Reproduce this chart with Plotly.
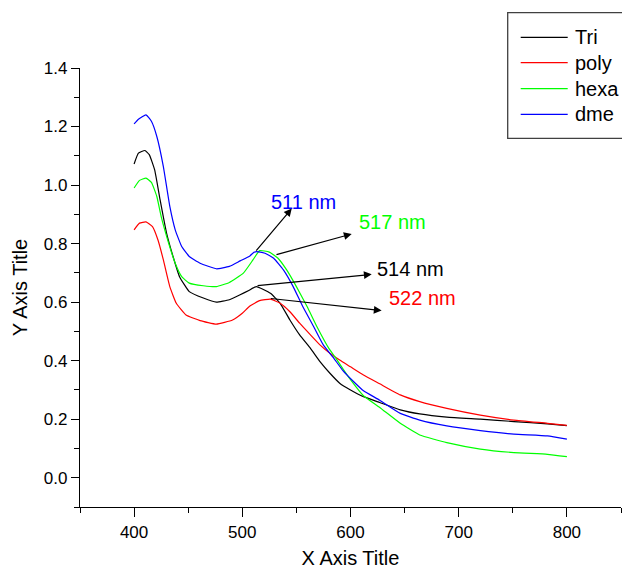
import plotly.graph_objects as go

# ---------------- data ----------------
series_names = ["Tri", "poly", "hexa", "dme"]
series_colors = ["#000000", "#FF0000", "#00FF00", "#0000FF"]

tri_x = [400, 404, 410, 414, 419, 424, 430, 436, 442, 451, 464, 476, 488, 498, 506, 513, 526, 535,
         544, 553, 563, 572, 581, 590, 600, 612, 627, 646, 664, 689, 720, 751, 782, 800]
tri_y = [1.072, 1.109, 1.118, 1.104, 1.052, 0.950, 0.836, 0.756, 0.687, 0.636, 0.614, 0.600, 0.608,
         0.625, 0.640, 0.653, 0.630, 0.596, 0.539, 0.488, 0.442, 0.396, 0.357, 0.323, 0.300, 0.277,
         0.257, 0.232, 0.218, 0.207, 0.200, 0.192, 0.184, 0.178]

poly_x = [400, 405, 411, 417, 422, 427, 433, 439, 448, 461, 476, 491, 500, 507, 516, 526, 535, 544,
          553, 563, 572, 581, 590, 600, 612, 627, 646, 664, 689, 720, 751, 782, 800]
poly_y = [0.847, 0.870, 0.874, 0.858, 0.813, 0.745, 0.653, 0.596, 0.556, 0.537, 0.525, 0.539, 0.562,
          0.587, 0.605, 0.610, 0.596, 0.567, 0.528, 0.488, 0.453, 0.425, 0.402, 0.379, 0.351, 0.321,
          0.283, 0.260, 0.237, 0.214, 0.197, 0.186, 0.179]

hexa_x = [400, 405, 411, 416, 421, 425, 431, 438, 444, 451, 464, 476, 488, 501, 510, 516, 525, 533,
          541, 550, 560, 569, 580, 586, 593, 600, 612, 627, 646, 664, 689, 720, 751, 782, 800]
hexa_y = [0.990, 1.016, 1.024, 1.009, 0.961, 0.893, 0.813, 0.733, 0.687, 0.665, 0.656, 0.653, 0.667,
          0.699, 0.745, 0.776, 0.771, 0.750, 0.710, 0.653, 0.584, 0.516, 0.442, 0.411, 0.372, 0.335,
          0.280, 0.240, 0.186, 0.146, 0.120, 0.098, 0.086, 0.080, 0.072]

dme_x = [400, 404, 411, 416, 421, 427, 433, 438, 444, 451, 461, 476, 488, 498, 507, 511, 515, 521,
         529, 538, 547, 556, 566, 575, 584, 593, 603, 612, 627, 646, 664, 689, 720, 751, 782, 800]
dme_y = [1.209, 1.225, 1.240, 1.218, 1.166, 1.064, 0.927, 0.847, 0.790, 0.756, 0.733, 0.714, 0.722,
         0.741, 0.758, 0.771, 0.772, 0.767, 0.750, 0.710, 0.653, 0.584, 0.516, 0.453, 0.411, 0.366,
         0.328, 0.297, 0.265, 0.220, 0.197, 0.177, 0.161, 0.149, 0.143, 0.132]

series_x = [tri_x, poly_x, hexa_x, dme_x]
series_y = [tri_y, poly_y, hexa_y, dme_y]

# peak annotations: label, colour, arrow tail (on curve), arrow head, label centre
peak_labels = ["511 nm", "517 nm", "514 nm", "522 nm"]
peak_colors = ["#0000FF", "#00FF00", "#000000", "#FF0000"]
arrow_tail = [(511.7, 0.771), (530.2, 0.761), (512.7, 0.656), (525.0, 0.613)]
arrow_head = [(545.7, 0.920), (601.1, 0.833), (619.6, 0.695), (628.8, 0.571)]
label_pos = [(556.6, 0.943), (638.4, 0.875), (655.9, 0.712), (666.1, 0.613)]

x_range = [350, 850]
y_range = [-0.1, 1.4]

# ---------------- figure ----------------
W, H = 622, 570
ML, MR, MT, MB = 80, 1, 68, 63
PW, PH = W - ML - MR, H - MT - MB
FONT = "Arial, Liberation Sans, sans-serif"


def px_x(px):
    return (px - ML) / PW


def px_y(py):
    return (H - MB - py) / PH


fig = go.Figure()
for name, color, xs, ys in zip(series_names, series_colors, series_x, series_y):
    fig.add_trace(go.Scatter(x=xs, y=ys, mode="lines", name=name,
                             line=dict(color=color, width=1.2, shape="spline", smoothing=0.4),
                             showlegend=False))

annotations = []
for lab, col, (tx, ty), (hx, hy), (lx, ly) in zip(peak_labels, peak_colors, arrow_tail,
                                                  arrow_head, label_pos):
    annotations.append(dict(x=hx, y=hy, ax=tx, ay=ty, xref="x", yref="y", axref="x", ayref="y",
                            text="", showarrow=True, arrowhead=2, arrowsize=1.3, arrowwidth=1.2,
                            arrowcolor="#000000"))
    annotations.append(dict(x=lx, y=ly, xref="x", yref="y", text=lab, showarrow=False,
                            font=dict(family=FONT, size=20, color=col),
                            xanchor="center", yanchor="middle"))

# manual legend box (top right, partly clipped like the reference)
shapes = [dict(type="rect", xref="paper", yref="paper",
               x0=px_x(507.7), x1=px_x(660), y0=px_y(138.3), y1=px_y(12.7),
               line=dict(color="#404040", width=1.3), fillcolor="rgba(0,0,0,0)", layer="above")]
row_y = [37.3, 62.7, 88.7, 114.3]
for name, color, ry in zip(series_names, series_colors, row_y):
    shapes.append(dict(type="line", xref="paper", yref="paper",
                       x0=px_x(520.7), x1=px_x(567.7), y0=px_y(ry), y1=px_y(ry),
                       line=dict(color=color, width=1.2)))
    annotations.append(dict(x=px_x(573.3), y=px_y(ry), xref="paper", yref="paper", text=name,
                            showarrow=False, xanchor="left", yanchor="middle",
                            font=dict(family=FONT, size=20, color="#000000")))

axis_common = dict(showgrid=False, zeroline=False, showline=True, linecolor="#000000",
                   linewidth=1.3, ticks="outside", tickcolor="#000000", tickwidth=1.3,
                   tickfont=dict(family=FONT, size=17, color="#000000"))

fig.update_layout(
    width=W, height=H,
    margin=dict(l=ML, r=MR, t=MT, b=MB, pad=0),
    paper_bgcolor="white", plot_bgcolor="white",
    font=dict(family=FONT, color="#000000"),
    annotations=annotations, shapes=shapes,
    xaxis=dict(range=x_range, tick0=0, dtick=100, ticklen=9,
               minor=dict(dtick=50, ticklen=5, ticks="outside", tickcolor="#000000", tickwidth=1.3),
               title=dict(text="X Axis Title", font=dict(family=FONT, size=20), standoff=10),
               **axis_common),
    yaxis=dict(range=y_range, tick0=0, dtick=0.2, tickformat=".1f", ticklen=8,
               minor=dict(dtick=0.1, ticklen=5, ticks="outside", tickcolor="#000000", tickwidth=1.3),
               title=dict(text="Y Axis Title", font=dict(family=FONT, size=20), standoff=10),
               **axis_common),
)

fig.write_html("out.html")
